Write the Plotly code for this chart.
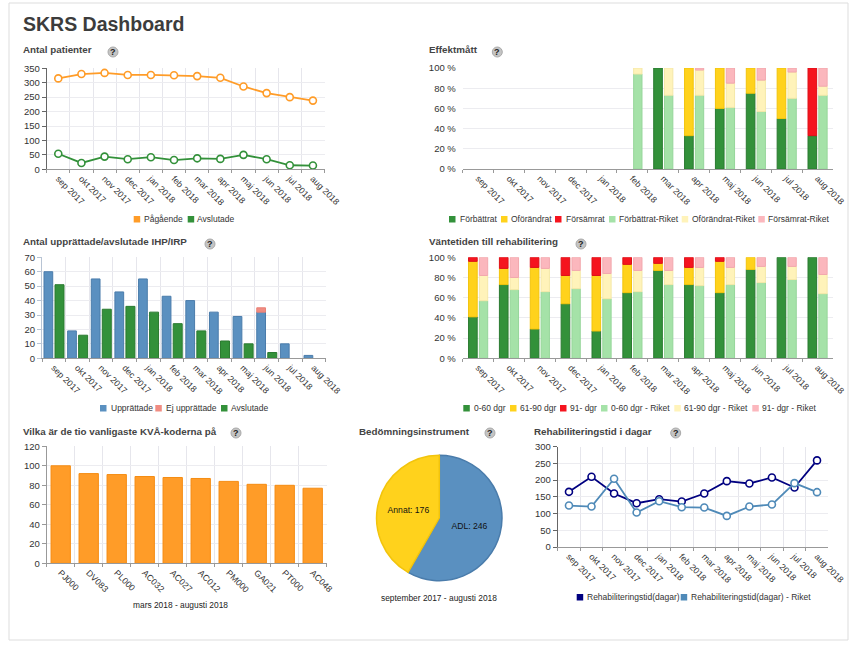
import plotly.graph_objects as go

W, H = 850, 647

months = ['sep 2017', 'okt 2017', 'nov 2017', 'dec 2017', 'jan 2018', 'feb 2018',
          'mar 2018', 'apr 2018', 'maj 2018', 'jun 2018', 'jul 2018', 'aug 2018']

# Antal patienter
pagaende = [315, 330, 334, 327, 327, 326, 323, 317, 287, 264, 250, 238]
avslutade_pat = [54, 22, 44, 35, 42, 32, 38, 36, 50, 35, 14, 13]

# Effektmatt (percent)
eff_forb = [0, 0, 0, 0, 0, 0, 100, 33, 60, 75, 50, 33]
eff_ofor = [0, 0, 0, 0, 0, 0, 0, 67, 40, 25, 50, 0]
eff_fors = [0, 0, 0, 0, 0, 0, 0, 0, 0, 0, 0, 67]
eff_forb_riket = [0, 0, 0, 0, 0, 94, 73, 73, 61, 57, 70, 73]
eff_ofor_riket = [0, 0, 0, 0, 0, 6, 27, 25, 24, 31, 26, 9]
eff_fors_riket = [0, 0, 0, 0, 0, 0, 0, 2, 15, 12, 4, 18]

# IHP/IRP
upprattade = [60, 19, 55, 46, 55, 43, 40, 32, 29, 32, 10, 2]
ej_upprattade = [0, 0, 0, 0, 0, 0, 0, 0, 0, 3, 0, 0]
avslutade_ihp = [51, 16, 34, 36, 32, 24, 19, 12, 10, 4, 0, 0]

# Vantetiden (percent)
vt_0_60 = [41, 73, 29, 54, 27, 65, 87, 73, 65, 88, 100, 100]
vt_61_90 = [55, 16, 61, 28, 55, 28, 7, 17, 31, 12, 0, 0]
vt_91 = [4, 11, 10, 18, 18, 7, 6, 10, 4, 0, 0, 0]
vt_0_60_riket = [57, 68, 66, 69, 59, 66, 73, 72, 73, 75, 78, 64]
vt_61_90_riket = [25, 12, 23, 18, 25, 21, 14, 18, 17, 16, 13, 19]
vt_91_riket = [18, 20, 11, 13, 16, 13, 13, 10, 10, 9, 9, 17]

# KVA-koder
kva_codes = ['PJ000', 'DV083', 'PL000', 'AC032', 'AC027', 'AC012', 'PM000', 'GA021', 'PT000', 'AC048']
kva_values = [100, 92, 91, 89, 88, 87, 84, 81, 80, 77]

# Bedomningsinstrument
pie_labels = ['ADL', 'Annat']
pie_values = [246, 176]

# Rehabiliteringstid
rehab = [165, 210, 160, 131, 143, 136, 160, 197, 190, 208, 178, 259]
rehab_riket = [124, 121, 204, 103, 137, 119, 118, 93, 121, 127, 191, 164]

GREEN, YELLOW, RED = '#33913a', '#ffd21c', '#f5141e'
LGREEN, LYELLOW, PINK = '#a5e2a8', '#fff3ba', '#fbb7bd'
BLUE, SALMON, ORANGE = '#5a90c0', '#f08c82', '#ff9c28'
NAVY, STEEL = '#000080', '#4f8ab8'
TEXT = '#333333'
FONT = 'Liberation Sans'

# darker rim of the shaded bars
EDGES = {GREEN: '#2a7a30', YELLOW: '#f2c40c', RED: '#dd1018', LGREEN: '#96d69a', LYELLOW: '#f5e8a8',
         PINK: '#f2a8ae', BLUE: '#4a7cab', SALMON: '#e88076', ORANGE: '#f58c12'}


def px(x):
    return x / W


def py(y):
    return 1 - y / H


fig = go.Figure()


def set_axes(n, box, yrange, dtick, suffix='', xgrid=True, cats=months, yline='#666666'):
    x0, x1, y0, y1 = box
    fig.update_layout({
        f'xaxis{n}': dict(domain=[px(x0), px(x1)], anchor=f'y{n}', type='category', automargin=False,
                          categoryorder='array', categoryarray=cats, range=[-0.5, len(cats) - 0.5],
                          tickson='boundaries', ticks='outside', ticklen=3, tickcolor='#999999',
                          showgrid=xgrid, gridcolor='#e6e6ec', tickangle=45, showline=True,
                          linecolor='#999999', tickfont=dict(size=8.8, color=TEXT, family=FONT)),
        f'yaxis{n}': dict(domain=[py(y1), py(y0)], anchor=f'x{n}', range=yrange, dtick=dtick, automargin=False,
                          ticksuffix=suffix, ticks='outside', ticklen=4,
                          tickcolor=yline if yline else 'white',
                          showgrid=True, gridcolor='#ececf0', zeroline=False, showline=bool(yline),
                          linecolor=yline if yline else 'white', tickfont=dict(size=9.5, color=TEXT, family=FONT)),
    })


def add_line(n, y, color, name):
    fig.add_trace(go.Scatter(x=months, y=y, name=name, mode='lines+markers', xaxis=f'x{n}', yaxis=f'y{n}',
                             line=dict(color=color, width=1.8), cliponaxis=False,
                             marker=dict(size=7, color='white', line=dict(color=color, width=1.6))))


def add_stack(n, series, offset, width):
    base = [0] * 12
    for y, color, name in series:
        fig.add_trace(go.Bar(x=months, y=[v or None for v in y], base=list(base), name=name,
                             xaxis=f'x{n}', yaxis=f'y{n}', offset=offset, width=width,
                             marker=dict(color=color, line=dict(width=1, color=EDGES[color]))))
        base = [b + v for b, v in zip(base, y)]


def heading(text, x, y, qx, qy):
    fig.add_annotation(text=f'<b>{text}</b>', xref='paper', yref='paper', x=px(x), y=py(y), showarrow=False,
                       xanchor='left', yanchor='middle', xshift=-2, font=dict(size=9.8, color='#444444', family=FONT))
    fig.add_shape(type='circle', xref='paper', yref='paper', x0=px(qx - 5), x1=px(qx + 5), y0=py(qy + 5),
                  y1=py(qy - 5), fillcolor='#c4c4c4', line=dict(color='#aaaaaa', width=1))
    fig.add_annotation(text='<b>?</b>', xref='paper', yref='paper', x=px(qx), y=py(qy), showarrow=False,
                       xanchor='center', yanchor='middle', font=dict(size=9, color='#222222', family=FONT))


def legend_row(items, y):
    for swatch_x, text_x, color, label in items:
        fig.add_shape(type='rect', xref='paper', yref='paper', x0=px(swatch_x), x1=px(swatch_x + 6.5),
                      y0=py(y + 3.5), y1=py(y - 3), fillcolor=color, line=dict(width=0))
        fig.add_annotation(text=label, xref='paper', yref='paper', x=px(text_x), y=py(y), showarrow=False,
                           xanchor='left', yanchor='middle', xshift=-2, font=dict(size=8.5, color=TEXT, family=FONT))


def caption(text, x, y):
    fig.add_annotation(text=text, xref='paper', yref='paper', x=px(x), y=py(y), showarrow=False,
                       xanchor='center', yanchor='middle', font=dict(size=8.4, color='#222222', family=FONT))


# Page frame and title
fig.add_shape(type='rect', xref='paper', yref='paper', x0=px(9), x1=px(848), y0=py(640), y1=py(3),
              line=dict(color='#dddddd', width=1), fillcolor='white', layer='below')
fig.add_annotation(text='<b>SKRS Dashboard</b>', xref='paper', yref='paper', x=px(23), y=py(24), showarrow=False,
                   xanchor='left', yanchor='middle', xshift=-2, font=dict(size=19.5, color='#3c3c3c', family=FONT))

# Antal patienter
set_axes('', (46.7, 324.5, 68.3, 169.3), [0, 350], 50)
add_line('', pagaende, ORANGE, 'Pågående')
add_line('', avslutade_pat, GREEN, 'Avslutade')
heading('Antal patienter', 23, 49, 113, 52)
legend_row([(133.7, 144, ORANGE, 'Pågående'), (187.7, 197, GREEN, 'Avslutade')], 219)

# Effektmatt
set_axes(2, (462.7, 833, 68, 169), [0, 100], 20, ' %', xgrid=False, yline=None)
add_stack(2, [(eff_forb, GREEN, 'Förbättrat'), (eff_ofor, YELLOW, 'Oförändrat'), (eff_fors, RED, 'Försämrat')], -0.31, 0.28)
add_stack(2, [(eff_forb_riket, LGREEN, 'Förbättrat-Riket'), (eff_ofor_riket, LYELLOW, 'Oförändrat-Riket'),
              (eff_fors_riket, PINK, 'Försämrat-Riket')], 0.04, 0.27)
heading('Effektmått', 429, 49, 497.3, 52)
legend_row([(449, 459.7, GREEN, 'Förbättrat'), (501, 511, YELLOW, 'Oförändrat'), (555, 565.7, RED, 'Försämrat'),
            (609, 619, LGREEN, 'Förbättrat-Riket'), (681.7, 691.7, LYELLOW, 'Oförändrat-Riket'),
            (758.3, 768.3, PINK, 'Försämrat-Riket')], 219)

# IHP/IRP
set_axes(3, (42, 325.7, 257.3, 358.3), [0, 70], 10, yline='#b8c4d4')
add_stack(3, [(upprattade, BLUE, 'Upprättade'), (ej_upprattade, SALMON, 'Ej upprättade')], -0.416, 0.37)
add_stack(3, [(avslutade_ihp, GREEN, 'Avslutade')], 0.05, 0.38)
heading('Antal upprättade/avslutade IHP/IRP', 23, 241.5, 210, 244)
legend_row([(100, 110.7, BLUE, 'Upprättade'), (155.3, 166, SALMON, 'Ej upprättade'), (221, 230.7, GREEN, 'Avslutade')], 408)

# Vantetiden
set_axes(4, (462.7, 833, 257.3, 358.3), [0, 100], 20, ' %', xgrid=False, yline=None)
add_stack(4, [(vt_0_60, GREEN, '0-60 dgr'), (vt_61_90, YELLOW, '61-90 dgr'), (vt_91, RED, '91- dgr')], -0.31, 0.28)
add_stack(4, [(vt_0_60_riket, LGREEN, '0-60 dgr - Riket'), (vt_61_90_riket, LYELLOW, '61-90 dgr - Riket'),
              (vt_91_riket, PINK, '91- dgr - Riket')], 0.04, 0.27)
heading('Väntetiden till rehabilitering', 429, 241.5, 581, 244)
legend_row([(463.3, 473.7, GREEN, '0-60 dgr'), (510, 520, YELLOW, '61-90 dgr'), (560, 570.3, RED, '91- dgr'),
            (601, 611, LGREEN, '0-60 dgr - Riket'), (674.3, 684.3, LYELLOW, '61-90 dgr - Riket'),
            (752.3, 761.7, PINK, '91- dgr - Riket')], 408)

# KVA-koder
set_axes(5, (46.7, 326.7, 446.3, 563.3), [0, 120], 20, cats=kva_codes, yline='#999999')
fig.add_trace(go.Bar(x=kva_codes, y=kva_values, width=0.69, xaxis='x5', yaxis='y5', name='KVÅ',
                     marker=dict(color=ORANGE, line=dict(width=1, color=EDGES[ORANGE]))))
heading('Vilka är de tio vanligaste KVÅ-koderna på', 23, 431, 236, 433)
caption('mars 2018 - augusti 2018', 180, 605)

# Bedomningsinstrument
fig.add_trace(go.Pie(labels=pie_labels, values=pie_values, sort=False, direction='clockwise', rotation=0,
                     marker=dict(colors=[BLUE, YELLOW], line=dict(width=1.5, color=[EDGES[BLUE], EDGES[YELLOW]])),
                     texttemplate='%{label}: %{value}', textposition='inside', insidetextorientation='horizontal',
                     textfont=dict(size=8.6, color='#111111', family=FONT),
                     domain=dict(x=[px(376.6), px(502)], y=[py(580.7), py(455.3)])))
heading('Bedömningsinstrument', 359, 431, 490, 433)
caption('september 2017 - augusti 2018', 439, 598)

# Rehabiliteringstid
set_axes(6, (557.7, 828.3, 446.7, 547), [0, 300], 50)
add_line(6, rehab, NAVY, 'Rehabiliteringstid(dagar)')
add_line(6, rehab_riket, STEEL, 'Rehabiliteringstid(dagar) - Riket')
heading('Rehabiliteringstid i dagar', 534, 431, 675.7, 433)
legend_row([(576.7, 586.7, NAVY, 'Rehabiliteringstid(dagar)'), (680.7, 690.7, STEEL, 'Rehabiliteringstid(dagar) - Riket')], 597)

fig.update_layout(width=W, height=H, margin=dict(l=0, r=0, t=0, b=0), paper_bgcolor='white', plot_bgcolor='white',
                  barmode='overlay', showlegend=False, font=dict(family=FONT))

fig.write_html("out.html", post_script="document.body.style.margin='0';", config={'displayModeBar': False})
